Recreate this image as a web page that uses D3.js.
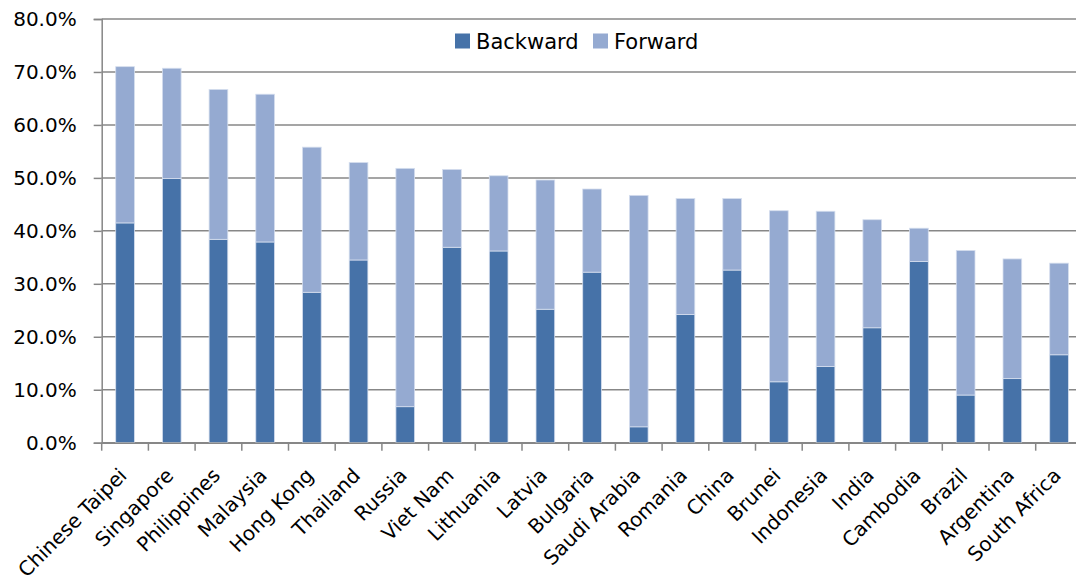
<!DOCTYPE html>
<html>
<head>
<meta charset="utf-8">
<script src="https://cdn.jsdelivr.net/npm/d3@7"></script>
<style>
  html, body { margin: 0; padding: 0; background: #fff; }
  svg { display: block; }
  text { font-family: "DejaVu Sans", sans-serif; fill: #000; }
</style>
</head>
<body>
<svg id="chart" width="1076" height="585"></svg>
<script>
const categories = ["Chinese Taipei","Singapore","Philippines","Malaysia","Hong Kong","Thailand","Russia","Viet Nam","Lithuania","Latvia","Bulgaria","Saudi Arabia","Romania","China","Brunei","Indonesia","India","Cambodia","Brazil","Argentina","South Africa"];
const backward = [41.5, 49.9, 38.4, 37.9, 28.4, 34.5, 6.8, 36.9, 36.2, 25.2, 32.2, 3.0, 24.2, 32.6, 11.5, 14.4, 21.7, 34.2, 9.0, 12.1, 16.6];
const total    = [71.0, 70.7, 66.7, 65.8, 55.8, 52.9, 51.8, 51.6, 50.4, 49.6, 47.9, 46.7, 46.1, 46.1, 43.8, 43.7, 42.1, 40.5, 36.3, 34.7, 33.9];
const forward = total.map((t, i) => +(t - backward[i]).toFixed(1));
const seriesNames = ["Backward", "Forward"];
const seriesColors = ["#4672A8", "#95AAD1"];
const yTicks = [0, 10, 20, 30, 40, 50, 60, 70, 80];

const svg = d3.select("#chart");
const pLeft = 101.7, pRight = 1082.4, pTop = 19, pBottom = 442.7;

const x = d3.scaleBand().domain(categories).range([pLeft, pRight]).padding(0);
const y = d3.scaleLinear().domain([0, 80]).range([pBottom, pTop]);

const rows = categories.map((c, i) => ({ cat: c, Backward: backward[i], Forward: forward[i] }));
const stacked = d3.stack().keys(seriesNames)(rows);

// gridlines
svg.append("g")
  .selectAll("line")
  .data(yTicks)
  .join("line")
  .attr("x1", pLeft).attr("x2", pRight)
  .attr("y1", d => y(d)).attr("y2", d => y(d))
  .attr("stroke", "#878787").attr("stroke-width", 1.5);

// bars
const barW = x.bandwidth() * 0.4;
svg.append("g")
  .selectAll("g")
  .data(stacked)
  .join("g")
  .attr("fill", (d, i) => seriesColors[i])
  .selectAll("rect")
  .data(d => d)
  .join("rect")
  .attr("x", d => x(d.data.cat) + (x.bandwidth() - barW) / 2)
  .attr("width", barW)
  .attr("y", d => y(d[1]))
  .attr("height", d => y(d[0]) - y(d[1]))
  .attr("stroke", "#D5DEEE")
  .attr("stroke-width", 0.8);

// y axis
const yAxis = d3.axisLeft(y).tickValues(yTicks).tickSize(8).tickPadding(17)
  .tickFormat(d => d.toFixed(1) + "%");
const gy = svg.append("g").attr("transform", `translate(${pLeft},0)`).call(yAxis);
gy.select(".domain").attr("stroke", "#878787").attr("stroke-width", 1.5);
gy.selectAll(".tick line").attr("stroke", "#878787").attr("stroke-width", 1.5);
gy.selectAll(".tick text").attr("font-size", 20).attr("font-family", "'DejaVu Sans', sans-serif").attr("fill", "#000");

// x axis
const xAxis = d3.axisBottom(x).tickSize(0).tickFormat("");
const gx = svg.append("g").attr("transform", `translate(0,${pBottom})`).call(xAxis);
gx.select(".domain").attr("stroke", "#878787").attr("stroke-width", 1.5);
gx.selectAll(".tick").remove();
const boundaries = categories.map(c => x(c)).concat([pRight]);
gx.selectAll("line.bt").data(boundaries).join("line").attr("class", "bt")
  .attr("x1", d => d).attr("x2", d => d).attr("y1", 0).attr("y2", 8)
  .attr("stroke", "#878787").attr("stroke-width", 1.5);
// labels
svg.append("g").selectAll("text").data(categories).join("text")
  .attr("transform", d => `translate(${x(d) + x.bandwidth() / 2 + 3},${pBottom + 34}) rotate(-45)`)
  .attr("text-anchor", "end")
  .attr("font-size", 20)
  .text(d => d);

// legend
const legend = svg.append("g");
const legendPos = [455, 593];
seriesNames.forEach((n, i) => {
  legend.append("rect").attr("x", legendPos[i]).attr("y", 33.5).attr("width", 15).attr("height", 15).attr("fill", seriesColors[i]);
  legend.append("text").attr("x", legendPos[i] + 21).attr("y", 49).attr("font-size", 21).text(n);
});
</script>
</body>
</html>
